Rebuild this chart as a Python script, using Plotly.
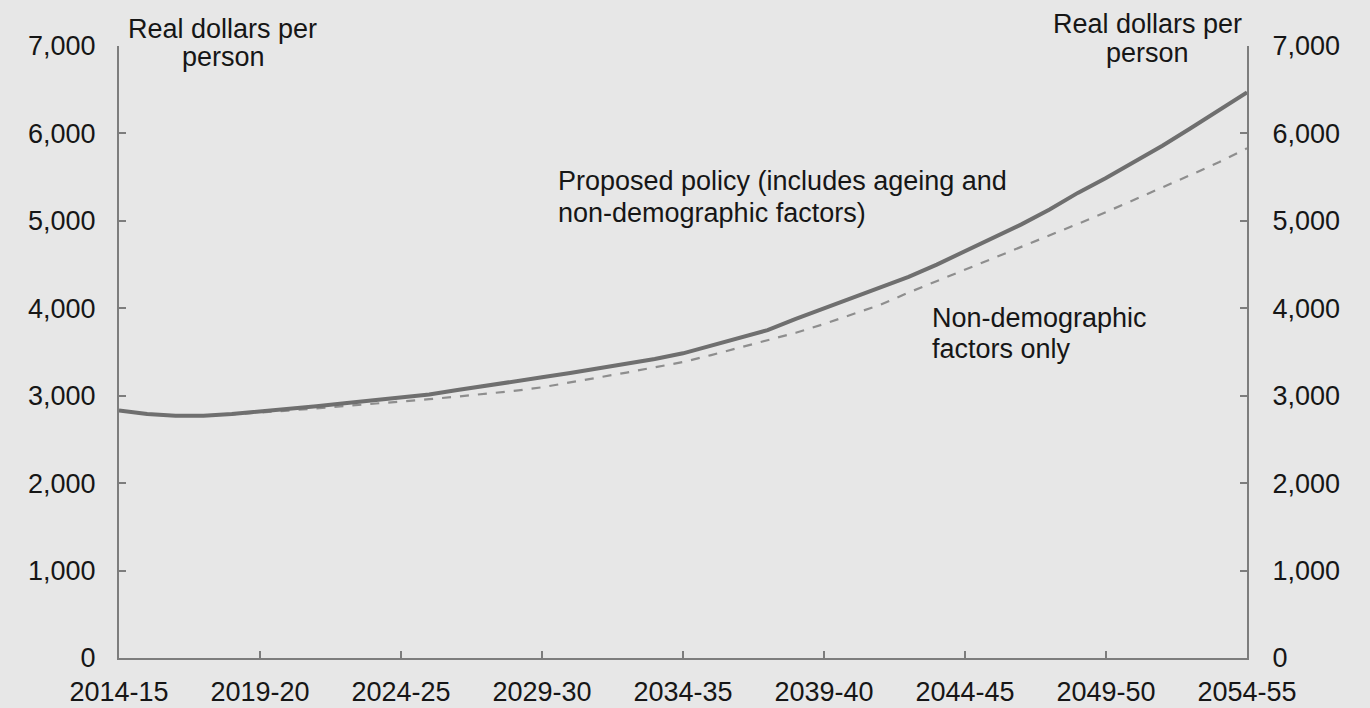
import plotly.graph_objects as go

years = [f"{y}-{(y + 1) % 100:02d}" for y in range(2014, 2055)]
tick_labels = ["2014-15", "2019-20", "2024-25", "2029-30", "2034-35",
               "2039-40", "2044-45", "2049-50", "2054-55"]

proposed_policy = [2830, 2790, 2770, 2772, 2790, 2817, 2850, 2880, 2915, 2945,
                   2980, 3015, 3065, 3110, 3160, 3210, 3260, 3310, 3365, 3420,
                   3485, 3570, 3660, 3750, 3880, 4000, 4120, 4240, 4360, 4500,
                   4650, 4800, 4960, 5130, 5320, 5490, 5670, 5860, 6060, 6260,
                   6470]
non_demographic = [2830, 2790, 2770, 2770, 2785, 2805, 2830, 2855, 2880, 2905,
                   2930, 2960, 2990, 3020, 3055, 3096, 3150, 3205, 3265, 3325,
                   3385, 3465, 3550, 3635, 3720, 3820, 3930, 4040, 4180, 4310,
                   4445, 4575, 4705, 4835, 4965, 5100, 5240, 5380, 5525, 5670,
                   5830]
y_ticks = [0, 1000, 2000, 3000, 4000, 5000, 6000, 7000]

BG = "#e7e7e7"
AX = "#7d7d7d"
TXT = "#161616"
FONT = "Liberation Sans, Arial, sans-serif"

fig = go.Figure()
fig.add_trace(go.Scatter(x=years, y=non_demographic, mode="lines",
                         line=dict(color="#8e8e8e", width=2.2, dash="dash"),
                         showlegend=False, hoverinfo="skip"))
fig.add_trace(go.Scatter(x=years, y=proposed_policy, mode="lines",
                         line=dict(color="#6f6f6f", width=4),
                         showlegend=False, hoverinfo="skip"))
fig.add_trace(go.Scatter(x=years, y=proposed_policy, yaxis="y2", mode="lines",
                         line=dict(color="rgba(0,0,0,0)", width=0),
                         showlegend=False, hoverinfo="skip"))

axis_common = dict(range=[0, 7000], tickvals=y_ticks,
                   ticktext=[f"{v:,}" for v in y_ticks],
                   showgrid=False, zeroline=False, showline=True,
                   linecolor=AX, linewidth=2, ticks="inside", ticklen=7,
                   tickcolor=AX, tickwidth=2, automargin=False,
                   tickfont=dict(family=FONT, size=27, color=TXT))

fig.update_layout(
    width=1370, height=708,
    paper_bgcolor=BG, plot_bgcolor=BG,
    margin=dict(l=119, r=123, t=46, b=50),
    xaxis=dict(type="category", categoryorder="array", categoryarray=years,
               range=[0, 40], tickvals=tick_labels, ticktext=tick_labels,
               showgrid=False, zeroline=False, showline=True,
               linecolor=AX, linewidth=2, ticks="inside", ticklen=7,
               tickcolor=AX, tickwidth=2, ticklabelstandoff=9, automargin=False,
               tickfont=dict(family=FONT, size=27, color=TXT)),
    yaxis=dict(side="left", ticklabelstandoff=16, **axis_common),
    yaxis2=dict(side="right", overlaying="y", ticklabelstandoff=18, **axis_common),
)

def label(text, x, y, xanchor="center"):
    fig.add_annotation(text=text, x=(x - 119) / 1128, y=(658 - y) / 612,
                       xref="paper", yref="paper", xanchor=xanchor, yanchor="middle",
                       showarrow=False,
                       font=dict(family=FONT, size=27, color=TXT))

label("Real dollars per", 222, 29)
label("person", 223, 57)
label("Real dollars per", 1147, 24)
label("person", 1147, 53)
label("Proposed policy (includes ageing and", 556, 181, "left")
label("non-demographic factors)", 556, 213, "left")
label("Non-demographic", 930, 318, "left")
label("factors only", 930, 349, "left")

fig.write_html("out.html")
